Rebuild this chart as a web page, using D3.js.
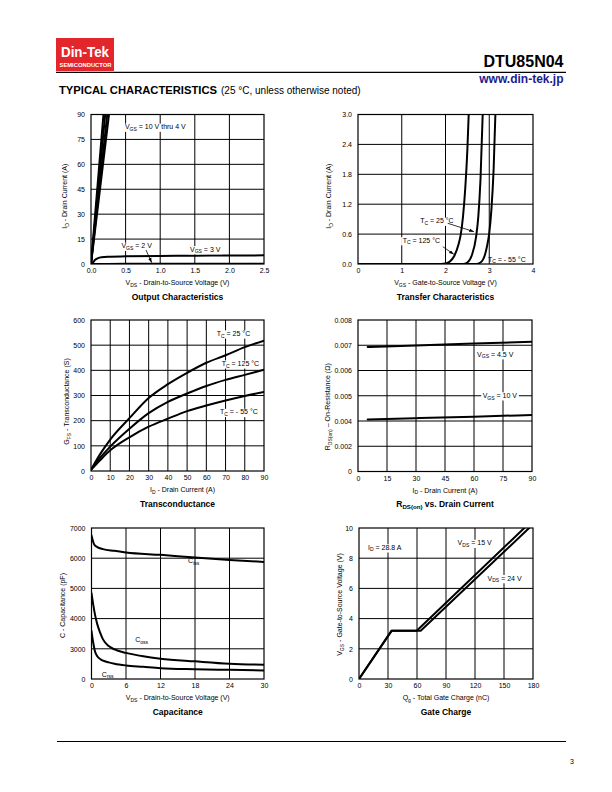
<!DOCTYPE html>
<html><head><meta charset="utf-8">
<script src="https://cdn.jsdelivr.net/npm/d3@7"></script>
<style>
body{margin:0;background:#fff}
svg{display:block}
text{font-family:"Liberation Sans",Arial,Helvetica,sans-serif;fill:#000}
</style></head><body>
<svg id="page" width="612" height="792"></svg>
<script>
// ---------------- DATA ----------------
// Output characteristics (VDS V, ID A)
const outXTicks = [0, 0.5, 1.0, 1.5, 2.0, 2.5];
const outYTicks = [0, 15, 30, 45, 60, 75, 90];
const outVgs10 = [[0,0],[0.18,90]];
const outVgs6  = [[0,0],[0.205,90]];
const outVgs5  = [[0,0],[0.235,90]];
const outVgs4  = [[0,0],[0.26,90]];
const outVgs3  = [[0,0],[0.03,1.0],[0.06,2.5],[0.1,3.5],[0.15,4.1],[0.25,4.4],[0.5,4.6],[1,4.8],[1.5,5.0],[2,5.1],[2.5,5.2]];
const outVgs2  = [[0,0],[0.5,0.1],[1,0.15],[2.5,0.2]];

// Transfer characteristics (VGS V, ID A)
const trXTicks = [0, 1, 2, 3, 4];
const trYTicks = [0, 0.6, 1.2, 1.8, 2.4, 3.0];
const tr125 = [[0,0],[1.9,0],[2.0,0.01],[2.1,0.05],[2.2,0.16],[2.3,0.4],[2.35,0.6],[2.4,0.95],[2.45,1.5],[2.5,2.3],[2.53,3.0]];
const tr25  = [[0,0],[2.4,0],[2.5,0.03],[2.6,0.17],[2.7,0.55],[2.75,0.95],[2.8,1.7],[2.85,3.0]];
const trM55 = [[0,0],[2.7,0],[2.8,0.03],[2.9,0.18],[2.95,0.36],[3.0,0.62],[3.05,1.1],[3.1,1.9],[3.14,3.0]];

// Transconductance (ID A, gfs S)
const gfsXTicks = [0,10,20,30,40,50,60,70,80,90];
const gfsYTicks = [0,100,200,300,400,500,600];
const gfs25  = [[0,5],[5,70],[10,125],[20,210],[30,290],[40,345],[50,390],[60,430],[70,460],[80,492],[90,518]];
const gfs125 = [[0,5],[5,55],[10,97],[20,168],[30,230],[40,275],[50,308],[60,338],[70,362],[80,382],[90,402]];
const gfsM55 = [[0,5],[5,45],[10,82],[20,134],[30,176],[40,208],[50,238],[60,260],[70,280],[80,298],[90,314]];

// RDS(on) vs drain current (ID A, ohm)
const rdsXTicks = [0,15,30,45,60,75,90];
const rdsYTicks = [0,0.002,0.004,0.005,0.006,0.007,0.008];
const rdsVgs45 = [[5,0.00693],[30,0.00699],[60,0.00707],[90,0.00714]];
const rdsVgs10 = [[5,0.00406],[30,0.00411],[60,0.00417],[90,0.00424]];

// Capacitance (VDS V, pF)
const capXTicks = [0,6,12,18,24,30];
const capYTicks = [0,3000,4000,5000,6000,7000];
const capCiss = [[0,6756],[0.5,6444],[1,6367],[2,6300],[4,6244],[6,6189],[12,6111],[18,6022],[24,5944],[30,5878]];
const capCoss = [[0,4839],[0.3,4462],[0.6,4140],[1,3817],[1.5,3533],[2,3311],[3,3089],[4,2933],[6,2596],[9,2258],[12,2022],[18,1753],[24,1517],[30,1416]];
const capCrss = [[0,3589],[0.3,3200],[0.6,2764],[1,2258],[1.5,1989],[2,1820],[3,1652],[4,1517],[6,1348],[9,1213],[12,1079],[18,978],[24,910],[30,843]];

// Gate charge (Qg nC, VGS V)
const gcXTicks = [0,30,60,90,120,150,180];
const gcYTicks = [0,2,4,6,8,10];
const gcVds15 = [[0,0],[33.8,3.2],[59.7,3.2],[171,10]];
const gcVds24 = [[0,0],[33.8,3.2],[63.8,3.2],[176,10]];

// ---------------- DRAWING ----------------
const svg = d3.select("#page");
const defs = svg.append("defs");
defs.append("marker").attr("id","arr").attr("viewBox","0 0 10 10").attr("refX",10).attr("refY",5)
  .attr("markerWidth",6).attr("markerHeight",6).attr("orient","auto-start-reverse")
  .append("path").attr("d","M0,1.5L10,5L0,8.5Z").attr("fill","#000");

function rich(sel, parts, size){
  // parts: strings (normal) or arrays [str] (subscript)
  let sub=false;
  parts.forEach(p=>{
    if(Array.isArray(p)){
      sel.append("tspan").attr("font-size",size*0.72).attr("dy",size*0.25).text(p[0]);
      sub=true;
    } else {
      const t=sel.append("tspan").attr("font-size",size).text(p);
      if(sub){t.attr("dy",-size*0.25);sub=false;}
    }
  });
  return sel;
}

let clipId=0;
function chart(c){
  const g = svg.append("g");
  const n = c.yTicks.length;
  const x = d3.scaleLinear().domain([c.xTicks[0], c.xTicks[c.xTicks.length-1]]).range([c.left,c.right]);
  let y;
  if(c.poly){
    y = d3.scaleLinear().domain(c.yTicks).range(c.yTicks.map((d,i)=>c.bottom-i*(c.bottom-c.top)/(n-1)));
  } else {
    y = d3.scaleLinear().domain([c.yTicks[0], c.yTicks[n-1]]).range([c.bottom,c.top]);
  }
  // grid
  g.append("g").selectAll("line").data(c.xTicks.slice(1,-1)).join("line")
    .attr("x1",d=>x(d)).attr("x2",d=>x(d)).attr("y1",c.top).attr("y2",c.bottom)
    .attr("stroke","#000").attr("stroke-width",1);
  g.append("g").selectAll("line").data(c.yTicks.slice(1,-1)).join("line")
    .attr("y1",d=>y(d)).attr("y2",d=>y(d)).attr("x1",c.left).attr("x2",c.right)
    .attr("stroke","#000").attr("stroke-width",1);
  // frame
  g.append("rect").attr("x",c.left).attr("y",c.top).attr("width",c.right-c.left).attr("height",c.bottom-c.top)
    .attr("fill","none").attr("stroke","#000").attr("stroke-width",1.2);
  // axes tick labels
  const xa = d3.axisBottom(x).tickValues(c.xTicks).tickSize(0).tickPadding(4.5).tickFormat(c.xFmt);
  const xg = g.append("g").attr("transform",`translate(0,${c.bottom})`).call(xa);
  xg.select(".domain").remove();
  xg.selectAll("text").attr("font-size",7).attr("font-family",null);
  const ya = d3.axisLeft(y).tickValues(c.yTicks).tickSize(0).tickPadding(6).tickFormat(c.yFmt);
  const yg = g.append("g").attr("transform",`translate(${c.left},0)`).call(ya);
  yg.select(".domain").remove();
  yg.selectAll("text").attr("font-size",7).attr("font-family",null);
  // clip
  const id="clip"+(clipId++);
  defs.append("clipPath").attr("id",id).append("rect").attr("x",c.left).attr("y",c.top)
    .attr("width",c.right-c.left).attr("height",c.bottom-c.top);
  const line = d3.line().x(d=>x(d[0])).y(d=>y(d[1])).curve(c.curve||d3.curveMonotoneX);
  const cg = g.append("g").attr("clip-path",`url(#${id})`);
  const ag = g.append("g");
  c.series.forEach(s=>{
    cg.append("path").attr("d",line(s)).attr("fill","none").attr("stroke","#000")
      .attr("stroke-width",c.sw||2).attr("stroke-linejoin","round").attr("stroke-linecap","round");
  });
  // labels
  (c.labels||[]).forEach(l=>{
    const t = ag.append("text").attr("x",x(l.x)).attr("y",y(l.y));
    rich(t,l.parts,7);
    if(l.bg!==false){
      const b=t.node().getBBox();
      ag.insert("rect","text").attr("x",b.x-1.5).attr("y",b.y+0.5).attr("width",b.width+3).attr("height",b.height-0.5).attr("fill","#fff");
    }
  });
  (c.arrows||[]).forEach(a=>{
    ag.append("line").attr("x1",x(a[0][0])).attr("y1",y(a[0][1])).attr("x2",x(a[1][0])).attr("y2",y(a[1][1]))
      .attr("stroke","#000").attr("stroke-width",0.8).attr("marker-end","url(#arr)");
  });
  // x label
  const cx=(c.left+c.right)/2;
  rich(g.append("text").attr("x",cx+(c.xlDx||0)).attr("y",c.bottom+21).attr("text-anchor","middle"), c.xlabel, 7);
  // y label
  const cy=(c.top+c.bottom)/2+(c.ylDy||0);
  rich(g.append("text").attr("transform",`translate(${c.left-c.ylOff},${cy}) rotate(-90)`).attr("text-anchor","middle"), c.ylabel, 7);
  // title
  rich(g.append("text").attr("x",cx).attr("y",c.bottom+35.5).attr("text-anchor","middle").attr("font-weight","bold"), c.title, 8.5);
}

const f1 = d3.format(".1f");
const fint = d=>String(d);

chart({left:91,right:264,top:114.5,bottom:264,
  xTicks:outXTicks,yTicks:outYTicks,xFmt:f1,yFmt:fint,
  series:[outVgs10,outVgs6,outVgs5,outVgs4,outVgs3,outVgs2],
  labels:[
    {x:0.49,y:81.2,parts:["V",["GS"]," = 10 V thru 4 V"]},
    {x:0.44,y:9.5,parts:["V",["GS"]," = 2 V"]},
    {x:1.43,y:7.5,parts:["V",["GS"]," = 3 V"]}
  ],
  arrows:[[[0.795,8.4],[0.877,0.8]]],
  xlabel:["V",["DS"],"  -  Drain-to-Source Voltage (V)"],
  ylabel:["I",["D"]," - Drain Current (A)"], ylOff:24, ylDy:7,
  title:["Output Characteristics"]});

chart({left:358,right:533,top:114.5,bottom:264,
  xTicks:trXTicks,yTicks:trYTicks,xFmt:fint,yFmt:f1,
  series:[tr125,tr25,trM55],
  labels:[
    {x:1.42,y:0.82,parts:["T",["C"]," = 25 °C"]},
    {x:1.02,y:0.43,parts:["T",["C"]," = 125 °C"]},
    {x:2.97,y:0.05,parts:["T",["C"]," = - 55 °C"],bg:false}
  ],
  arrows:[[[2.05,0.817],[2.65,0.649]],[[1.94,0.347],[2.19,0.195]]],
  xlabel:["V",["GS"]," - Gate-to-Source Voltage (V)"],
  ylabel:["I",["D"]," - Drain Current (A)"], ylOff:27, ylDy:7,
  title:["Transfer Characteristics"]});

chart({left:91,right:264,top:320,bottom:471,
  xTicks:gfsXTicks,yTicks:gfsYTicks,xFmt:fint,yFmt:fint,
  series:[gfs25,gfs125,gfsM55],
  labels:[
    {x:65.4,y:537,parts:["T",["C"]," = 25 °C"]},
    {x:68,y:418,parts:["T",["C"]," = 125 °C"]},
    {x:67.1,y:225,parts:["T",["C"]," = - 55 °C"]}
  ],
  xlabel:["I",["D"],"  -  Drain Current (A)"], xlDx:5,
  ylabel:["G",["FS"]," - Transconductance (S)"], ylOff:22, ylDy:6,
  title:["Transconductance"]});

chart({left:358,right:532,top:320,bottom:471.5,poly:true,
  xTicks:rdsXTicks,yTicks:rdsYTicks,xFmt:fint,yFmt:d=>d===0?"0":d3.format(".3f")(d),
  series:[rdsVgs45,rdsVgs10],
  labels:[
    {x:61.6,y:0.00655,parts:["V",["GS"]," = 4.5 V"]},
    {x:64.5,y:0.00492,parts:["V",["GS"]," = 10 V"]}
  ],
  xlabel:["I",["D"],"  -  Drain Current (A)"],
  ylabel:["R",["DS(on)"]," – On-Resistance (Ω)"], ylOff:28, ylDy:11,
  title:["R",["DS(on)"]," vs. Drain Current"]});

chart({left:91.5,right:264,top:528,bottom:679,poly:true,
  xTicks:capXTicks,yTicks:capYTicks,xFmt:fint,yFmt:fint,
  series:[capCiss,capCoss,capCrss],
  labels:[
    {x:16.8,y:5840,parts:["C",["iss"]],bg:false},
    {x:7.6,y:3209,parts:["C",["oss"]]},
    {x:1.8,y:248,parts:["C",["rss"]],bg:false}
  ],
  xlabel:["V",["DS"],"  -  Drain-to-Source Voltage (V)"],
  ylabel:["C - Capacitance (pF)"], ylOff:27, ylDy:2,
  title:["Capacitance"]});

chart({left:359,right:533,top:528,bottom:679,curve:d3.curveLinear,
  xTicks:gcXTicks,yTicks:gcYTicks,xFmt:fint,yFmt:fint,
  series:[gcVds15,gcVds24],
  labels:[
    {x:9.3,y:8.56,parts:["I",["D"]," = 28.8 A"]},
    {x:102,y:8.86,parts:["V",["DS"]," = 15 V"]},
    {x:133,y:6.52,parts:["V",["DS"]," = 24 V"]}
  ],
  xlabel:["Q",["g"],"  -  Total Gate Charge (nC)"],
  ylabel:["V",["GS"]," - Gate-to-Source Voltage (V)"], ylOff:17, ylDy:1,
  title:["Gate Charge"]});

// ---------------- HEADER / FOOTER ----------------
svg.append("rect").attr("x",56).attr("y",38).attr("width",58).attr("height",33).attr("fill","#e3262b");
svg.append("text").attr("x",85).attr("y",57).attr("text-anchor","middle").attr("font-weight","bold")
  .attr("font-size",14).style("fill","#fff").attr("textLength",48).attr("lengthAdjust","spacingAndGlyphs").text("Din-Tek");
svg.append("text").attr("x",85.5).attr("y",67).attr("text-anchor","middle").attr("font-weight","bold")
  .attr("font-size",6).style("fill","#fff").attr("textLength",52).attr("lengthAdjust","spacingAndGlyphs").text("SEMICONDUCTOR");
svg.append("line").attr("x1",56).attr("x2",566).attr("y1",72.3).attr("y2",72.3).attr("stroke","#000").attr("stroke-width",1.2);
svg.append("text").attr("x",563.5).attr("y",67).attr("text-anchor","end").attr("font-weight","bold").attr("font-size",16).text("DTU85N04");
svg.append("text").attr("x",563.5).attr("y",83).attr("text-anchor","end").attr("font-weight","bold").attr("font-size",12)
  .style("fill","#1c1c8c").text("www.din-tek.jp");
svg.append("text").attr("x",59).attr("y",93.5).attr("font-weight","900").attr("font-size",11)
  .attr("textLength",158).attr("lengthAdjust","spacingAndGlyphs").text("TYPICAL CHARACTERISTICS");
svg.append("text").attr("x",221).attr("y",93.5).attr("font-size",10).text("(25 °C, unless otherwise noted)");
svg.append("line").attr("x1",57).attr("x2",566).attr("y1",741.5).attr("y2",741.5).attr("stroke","#000").attr("stroke-width",1.2);
svg.append("text").attr("x",572).attr("y",763.5).attr("text-anchor","middle").attr("font-size",7).text("3");
</script>
</body></html>
